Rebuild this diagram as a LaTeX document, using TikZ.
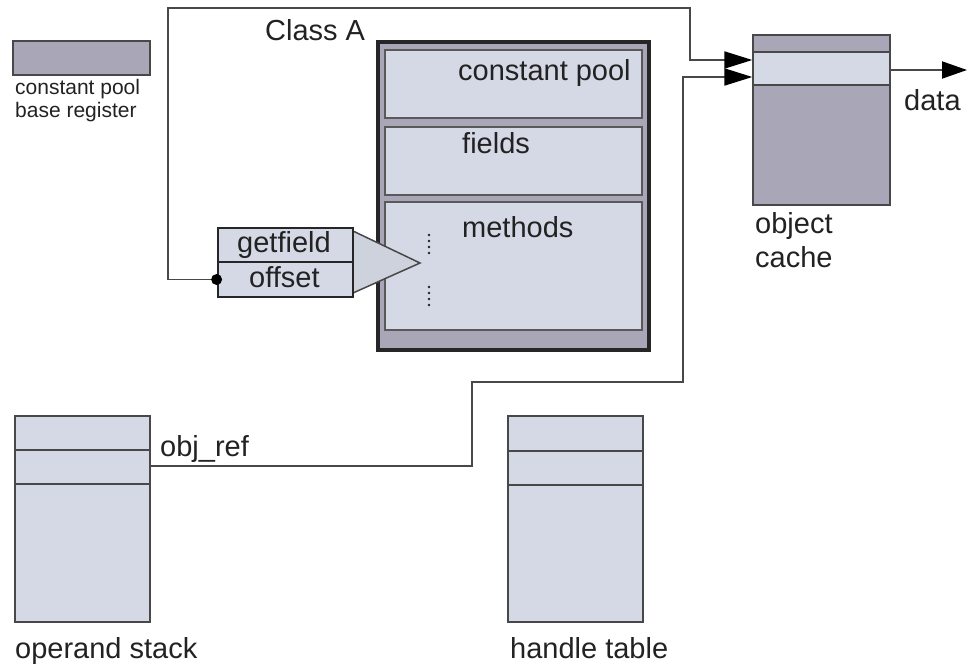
\documentclass[tikz,border=0pt]{standalone}
\usepackage{fontspec}
\setmainfont{Liberation Sans}
\usetikzlibrary{arrows.meta}
\definecolor{slate}{HTML}{A9A6B8}
\definecolor{pale}{HTML}{D4D9E5}
\definecolor{ink}{HTML}{222222}
\definecolor{wire}{HTML}{484848}
\tikzset{
  lbl/.style={anchor=base west, inner sep=0pt, text=ink, font=\fontsize{29}{34}\selectfont},
  smalllbl/.style={anchor=base west, inner sep=0pt, text=ink, font=\fontsize{21}{24}\selectfont},
  cell/.style={rectangle, inner sep=0pt, draw=wire, line width=1.3pt},
  panel/.style={cell, fill=pale, line width=1.8pt, draw=black!65},
  wirel/.style={draw=wire, line width=1.9pt},
  bigtip/.style={-{Triangle[length=28pt,width=17pt,color=black]}},
}
\begin{document}
\begin{tikzpicture}[x=1pt,y=-1pt]
\useasboundingbox (0,0) rectangle (968,669);

% constant pool base register
\node[cell, fill=slate, minimum width=137pt, minimum height=34pt] (cpreg) at (81.5,58) {};
\node[smalllbl] (cpregA) at (15,94) {constant pool};
\node[smalllbl] (cpregB) at (15,117) {base register};

% class A with its three areas
\node[lbl] (clsname) at (265,41) {Class A};
\node[rectangle, draw=black!85, line width=3.5pt, fill=slate, minimum width=271pt, minimum height=308pt] (classA) at (513.5,196) {};
\node[panel, minimum width=257pt, minimum height=68pt] (cpool) at (513.5,84) {};
\node[panel, minimum width=257pt, minimum height=68pt] (fields) at (513.5,161) {};
\node[panel, minimum width=257pt, minimum height=128pt] (methods) at (513.5,266) {};
\node[lbl] (cpooltxt) at (458,81) {constant pool};
\node[lbl] (fieldstxt) at (462,153) {fields};
\node[lbl] (methodstxt) at (462,237) {methods};
\foreach \yy in {235,241,247,253,287,293,299,305}
  \fill[ink] (429,\yy) circle (1.4pt);

% getfield instruction and its call-out into the methods area
\coordinate (triA) at (353,231);
\coordinate (triB) at (420,263);
\coordinate (triC) at (353,293);
\filldraw[fill=pale!92!gray, draw=wire, line width=1.5pt] (triA) -- (triB) -- (triC);
\node[cell, fill=pale, draw=black!85, line width=2.8pt, minimum width=135pt, minimum height=34pt] (getfield) at (285.5,245) {};
\node[cell, fill=pale, draw=black!85, line width=2.8pt, minimum width=135pt, minimum height=35pt] (offset) at (285.5,279.5) {};
\node[lbl] (gftxt) at (237,252) {getfield};
\node[lbl] (offtxt) at (249,287) {offset};

% object cache
\node[cell, fill=slate, minimum width=137pt, minimum height=170pt] (cache) at (821.5,120) {};
\node[cell, fill=pale, minimum width=137pt, minimum height=33pt] (cacheline) at (821.5,68.5) {};
\node[lbl] (cacheA) at (755,233) {object};
\node[lbl] (cacheB) at (755,267) {cache};
\node[lbl] (datatxt) at (904,110) {data};

% operand stack and handle table
\node[cell, fill=pale, minimum width=135pt, minimum height=206pt] (opstack) at (82.5,519) {};
\draw[wire, line width=1.3pt] (15,450) -- (150,450) (15,484) -- (150,484);
\node[lbl] (optxt) at (15,658) {operand stack};
\node[cell, fill=pale, minimum width=135pt, minimum height=206pt] (handles) at (575.5,519) {};
\draw[wire, line width=1.3pt] (508,451) -- (643,451) (508,485) -- (643,485);
\node[lbl] (hdltxt) at (510,658) {handle table};
\node[lbl] (objreftxt) at (160,456) {obj\_ref};

% connectors
\coordinate (k1) at (168,8);
\coordinate (k2) at (690,60);
\draw[wirel, bigtip] (offset.west) -| (k1) -| (k2) -- (k2 -| cache.west);
\fill[black] (offset.west) circle (5.5pt);

\coordinate (objref) at (150,466);
\coordinate (m1) at (472,382);
\coordinate (m2) at (683,77);
\draw[wirel, bigtip] (objref) -| (m1) -| (m2) -- (m2 -| cache.west);

\coordinate (dataend) at (967,70);
\draw[wirel, -{Triangle[length=25pt,width=17pt,color=black]}] (cache.east |- dataend) -- (dataend);
\end{tikzpicture}
\end{document}
